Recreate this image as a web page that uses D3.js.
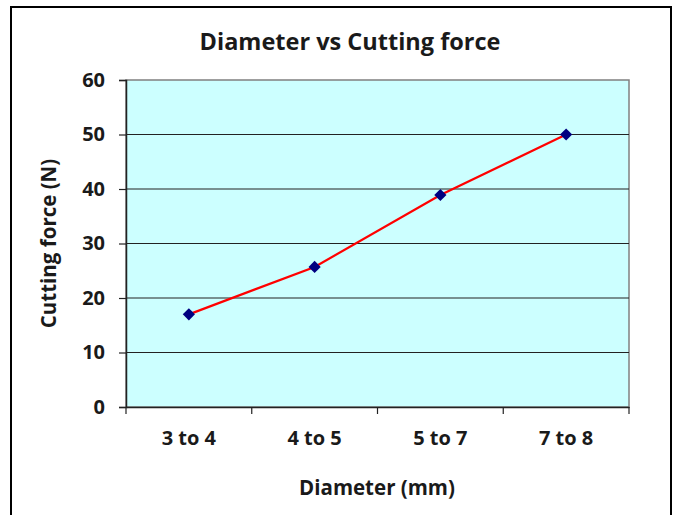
<!DOCTYPE html>
<html>
<head>
<meta charset="utf-8">
<script src="https://cdn.jsdelivr.net/npm/d3@7"></script>
<style>
  body { margin: 0; background: #fff; }
  text { font-family: "Open Sans", Lato, sans-serif; font-weight: bold; fill: #1a1a1a; }
</style>
</head>
<body>
<svg></svg>
<script>
const categories = ['3 to 4', '4 to 5', '5 to 7', '7 to 8'];
const forces = [17, 25.7, 38.9, 50];
const yTicks = [0, 10, 20, 30, 40, 50, 60];

const CHART_SIZE = { width: 677, height: 515 };
const MARGIN = { left: 126, right: 48, top: 80, bottom: 108 };
const WIDTH = CHART_SIZE.width - MARGIN.left - MARGIN.right;
const HEIGHT = CHART_SIZE.height - MARGIN.top - MARGIN.bottom;

const svg = d3.select('svg')
  .attr('width', CHART_SIZE.width)
  .attr('height', CHART_SIZE.height);

// outer frame
svg.append('rect')
  .attr('x', 11).attr('y', 7)
  .attr('width', 660).attr('height', 520)
  .attr('fill', 'none').attr('stroke', '#000').attr('stroke-width', 2);

svg.append('text')
  .attr('x', 350).attr('y', 50)
  .attr('text-anchor', 'middle')
  .style('font-size', '23.5px')
  .text('Diameter vs  Cutting force');

const g = svg.append('g')
  .attr('transform', `translate(${MARGIN.left},${MARGIN.top})`);

const x = d3.scaleBand().domain(categories).range([0, WIDTH]);
const y = d3.scaleLinear().domain([0, 60]).range([HEIGHT, 0]);

g.append('rect')
  .attr('width', WIDTH).attr('height', HEIGHT)
  .attr('fill', '#ccffff')
  .attr('stroke', '#808080').attr('stroke-width', 1.5);

g.selectAll('.grid')
  .data(yTicks.filter(t => t > 0 && t < 60))
  .join('line')
  .attr('class', 'grid')
  .attr('x1', 0).attr('x2', WIDTH)
  .attr('y1', d => y(d)).attr('y2', d => y(d))
  .attr('stroke', '#222').attr('stroke-width', 1.2);

const yAxis = g.append('g')
  .call(d3.axisLeft(y).tickValues(yTicks).tickSize(7).tickPadding(14));
const xAxis = g.append('g')
  .attr('transform', `translate(0,${HEIGHT})`)
  .call(d3.axisBottom(x).tickSize(0).tickPadding(24));

[yAxis, xAxis].forEach(a => {
  a.select('.domain').attr('stroke', '#222').attr('stroke-width', 1.5);
  a.selectAll('line').attr('stroke', '#222').attr('stroke-width', 1.2);
  a.selectAll('text').style('font-size', '20px').attr('fill', '#1a1a1a');
});

// category boundary ticks
const bounds = categories.map(c => x(c)).concat([WIDTH]);
xAxis.selectAll('.bound')
  .data(bounds)
  .join('line')
  .attr('class', 'bound')
  .attr('x1', d => d).attr('x2', d => d)
  .attr('y1', 0).attr('y2', 7)
  .attr('stroke', '#222').attr('stroke-width', 1.2);

const line = d3.line()
  .x((d, i) => x(categories[i]) + x.bandwidth() / 2)
  .y(d => y(d));

g.append('path')
  .attr('d', line(forces))
  .attr('fill', 'none')
  .attr('stroke', '#ff0000')
  .attr('stroke-width', 2.2);

g.selectAll('.pt')
  .data(forces)
  .join('path')
  .attr('class', 'pt')
  .attr('d', d3.symbol(d3.symbolDiamond2, 95))
  .attr('transform', (d, i) => `translate(${x(categories[i]) + x.bandwidth() / 2},${y(d)})`)
  .attr('fill', '#000080');

svg.append('text')
  .attr('x', 377).attr('y', 495)
  .attr('text-anchor', 'middle')
  .style('font-size', '20.5px')
  .text('Diameter (mm)');

svg.append('text')
  .attr('transform', 'rotate(-90)')
  .attr('x', -(MARGIN.top + HEIGHT / 2)).attr('y', 56)
  .attr('text-anchor', 'middle')
  .style('font-size', '20.5px')
  .text('Cutting force (N)');
</script>
</body>
</html>
